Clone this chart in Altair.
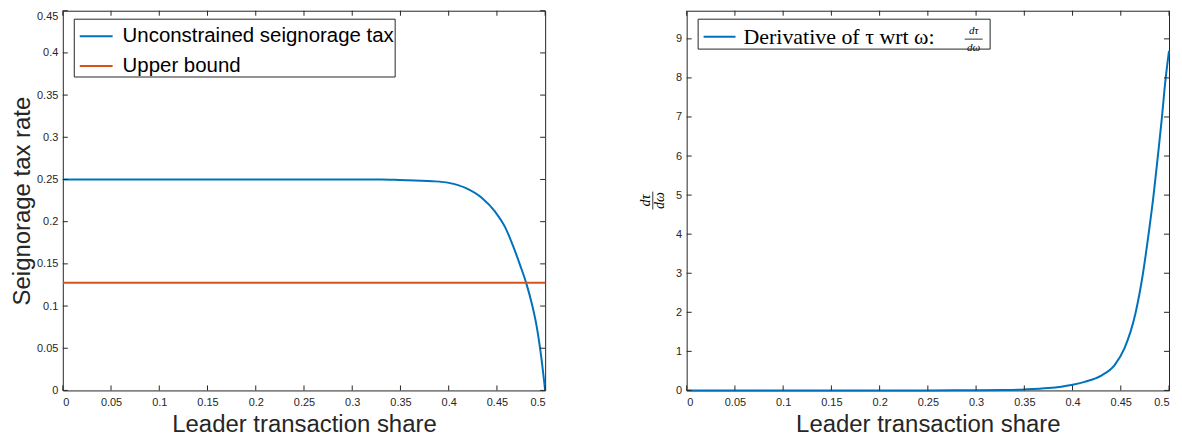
import altair as alt
import pandas as pd

# ---------------- data ----------------
omega_tau = [0.0, 0.05, 0.1, 0.15, 0.2, 0.25, 0.3, 0.33, 0.3485, 0.3829, 0.4001,
             0.4174, 0.4345, 0.4483, 0.4587, 0.4673, 0.4742, 0.4803, 0.4862,
             0.4913, 0.4959, 0.5]
tau_vals = [0.25, 0.25, 0.25, 0.25, 0.25, 0.25, 0.25, 0.2499, 0.2494, 0.248, 0.246,
            0.240, 0.228, 0.2115, 0.193, 0.1695, 0.148, 0.1275, 0.1028,
            0.0754, 0.040, 0.0]
bound_omega = [0.0, 0.5]
bound_vals = [0.1275, 0.1275]

omega_deriv = [0.0, 0.05, 0.1, 0.15, 0.2, 0.25, 0.3, 0.33, 0.35, 0.375, 0.3988,
               0.4126, 0.4298, 0.4436, 0.4539, 0.4653, 0.4729, 0.4787, 0.4839,
               0.4883, 0.4925, 0.4959, 0.5]
deriv_vals = [0.0, 0.0, 0.0, 0.0, 0.0, 0.0005, 0.004, 0.012, 0.025, 0.06, 0.14,
              0.22, 0.38, 0.65, 1.08, 1.98, 2.98, 3.98, 4.98,
              5.97, 6.95, 7.85, 8.69]

series_left = ["Unconstrained seignorage tax", "Upper bound"]
series_right = ["Derivative of \u03c4 wrt \u03c9:\u00a0\u2800\u2800\u2800"]
colors_left = ["#0072BD", "#D95319"]
colors_right = ["#0072BD"]

x_ticks = [0, 0.05, 0.1, 0.15, 0.2, 0.25, 0.3, 0.35, 0.4, 0.45, 0.5]
y_ticks_left = [0, 0.05, 0.1, 0.15, 0.2, 0.25, 0.3, 0.35, 0.4, 0.45]
y_ticks_right = [0, 1, 2, 3, 4, 5, 6, 7, 8, 9]

x_title = "Leader transaction share"
y_title_left = "Seignorage tax rate"
frac_num = ["d\u03c4"]
frac_den = ["d\u03c9"]

# ---------------- styling ----------------
W, H = 484, 381
AX = "#262626"
SANS = "Liberation Sans"
SERIF = "Liberation Serif"
TICK = 5

xs = alt.Scale(domain=[0, 0.5], nice=False, zero=False)
ys_left = alt.Scale(domain=[0, 0.45], nice=False)
ys_right = alt.Scale(domain=[0, 9.72], nice=False)

X_AXIS = alt.Axis(values=x_ticks, format="~g", title=x_title, ticks=False,
                  domain=False, grid=False, labelPadding=6, titlePadding=5)
Y_AXIS_LEFT = alt.Axis(values=y_ticks_left, format="~g", title=y_title_left,
                       ticks=False, domain=False, grid=False,
                       labelPadding=5, titlePadding=2,
                       labelBaseline={"condition": {"test": "datum.value > 0.449",
                                                    "value": "top"},
                                      "value": "middle"})
Y_AXIS_RIGHT = alt.Axis(values=y_ticks_right, format="~g", title=None,
                        ticks=False, domain=False, grid=False, labelPadding=5)


def inner_ticks(yticks, yscale, yaxis):
    xt = alt.Chart(pd.DataFrame({"omega": x_ticks}))
    yt = alt.Chart(pd.DataFrame({"value": yticks}))
    xenc = alt.X("omega:Q", scale=xs, axis=X_AXIS)
    yenc = alt.Y("value:Q", scale=yscale, axis=yaxis)
    bottom = xt.mark_rule(color=AX, strokeWidth=1).encode(
        x=xenc, y=alt.value(H), y2=alt.value(H - TICK))
    top = xt.mark_rule(color=AX, strokeWidth=1).encode(
        x=xenc, y=alt.value(0), y2=alt.value(TICK))
    left = yt.mark_rule(color=AX, strokeWidth=1).encode(
        y=yenc, x=alt.value(0), x2=alt.value(TICK))
    right = yt.mark_rule(color=AX, strokeWidth=1).encode(
        y=yenc, x=alt.value(W - TICK), x2=alt.value(W))
    return [bottom, top, left, right]


# ---------------- left panel ----------------
left_df = pd.DataFrame({
    "omega": omega_tau + bound_omega,
    "value": tau_vals + bound_vals,
    "series": [series_left[0]] * len(omega_tau) + [series_left[1]] * len(bound_omega),
})

left_lines = alt.Chart(left_df).mark_line(strokeWidth=2, interpolate="monotone").encode(
    x=alt.X("omega:Q", scale=xs, axis=X_AXIS),
    y=alt.Y("value:Q", scale=ys_left, axis=Y_AXIS_LEFT),
    color=alt.Color("series:N",
                    scale=alt.Scale(domain=series_left, range=colors_left),
                    legend=alt.Legend(title=None, orient="none", legendX=11, legendY=8,
                                      strokeColor=AX, fillColor="white", padding=0,
                                      symbolType="stroke", symbolSize=1089,
                                      symbolOffset=5,
                                      symbolStrokeWidth=2, labelFontSize=20.5,
                                      labelFont=SANS, labelColor="black",
                                      labelOffset=9, rowPadding=2, labelLimit=500,
                                      cornerRadius=0)),
)

left_panel = alt.layer(left_lines, *inner_ticks(y_ticks_left, ys_left, Y_AXIS_LEFT)
                       ).properties(width=W, height=H)

# ---------------- right panel ----------------
right_df = pd.DataFrame({
    "omega": omega_deriv,
    "value": deriv_vals,
    "series": series_right * len(omega_deriv),
})

right_line = alt.Chart(right_df).mark_line(strokeWidth=2, interpolate="monotone").encode(
    x=alt.X("omega:Q", scale=xs, axis=X_AXIS),
    y=alt.Y("value:Q", scale=ys_right, axis=Y_AXIS_RIGHT),
    color=alt.Color("series:N",
                    scale=alt.Scale(domain=series_right, range=colors_right),
                    legend=alt.Legend(title=None, orient="none", legendX=11, legendY=8,
                                      strokeColor=AX, padding=1,
                                      symbolType="stroke", symbolSize=1024,
                                      symbolOffset=4,
                                      symbolStrokeWidth=2, labelFontSize=22,
                                      labelFont=SERIF, labelColor="black",
                                      labelOffset=7, labelLimit=600,
                                      cornerRadius=0)),
)

# y-axis title as a rotated fraction d tau / d omega
ytitle_num = alt.Chart(pd.DataFrame({"s": frac_num})).mark_text(
    angle=270, font=SERIF, fontStyle="italic", fontSize=14, color="black",
    baseline="middle", align="center").encode(
    text="s:N", x=alt.value(-41), y=alt.value(H / 2))
ytitle_den = alt.Chart(pd.DataFrame({"s": frac_den})).mark_text(
    angle=270, font=SERIF, fontStyle="italic", fontSize=14, color="black",
    baseline="middle", align="center").encode(
    text="s:N", x=alt.value(-27), y=alt.value(H / 2))
ytitle_bar = alt.Chart(pd.DataFrame({"s": frac_num})).mark_rule(
    color="black", strokeWidth=0.8).encode(
    x=alt.value(-34), y=alt.value(H / 2 - 9), y2=alt.value(H / 2 + 9))

# fraction inside the legend label
leg_num = alt.Chart(pd.DataFrame({"s": frac_num})).mark_text(
    font=SERIF, fontStyle="italic", fontSize=11, color="black",
    baseline="middle", align="center").encode(
    text="s:N", x=alt.value(288), y=alt.value(20))
leg_den = alt.Chart(pd.DataFrame({"s": frac_den})).mark_text(
    font=SERIF, fontStyle="italic", fontSize=11, color="black",
    baseline="middle", align="center").encode(
    text="s:N", x=alt.value(288), y=alt.value(37.5))
leg_bar = alt.Chart(pd.DataFrame({"s": frac_num})).mark_rule(
    color="black", strokeWidth=0.8).encode(
    y=alt.value(28.5), x=alt.value(279), x2=alt.value(297))

right_panel = alt.layer(right_line, *inner_ticks(y_ticks_right, ys_right, Y_AXIS_RIGHT),
                        ytitle_num, ytitle_den, ytitle_bar,
                        leg_num, leg_den, leg_bar).properties(width=W, height=H)

chart = alt.hconcat(left_panel, right_panel, spacing=88).resolve_scale(
    color="independent", y="independent"
).properties(
    padding={"left": 2, "top": 1, "right": 0, "bottom": 0}
).configure_view(stroke=AX, strokeWidth=1).configure_axis(
    labelFont=SANS, labelFontSize=11, labelColor=AX,
    titleFont=SANS, titleFontSize=24, titleFontWeight="normal", titleColor=AX,
).configure_legend(labelFontWeight="normal")

chart.save("out.html", embed_options={"renderer": "svg", "actions": False})
